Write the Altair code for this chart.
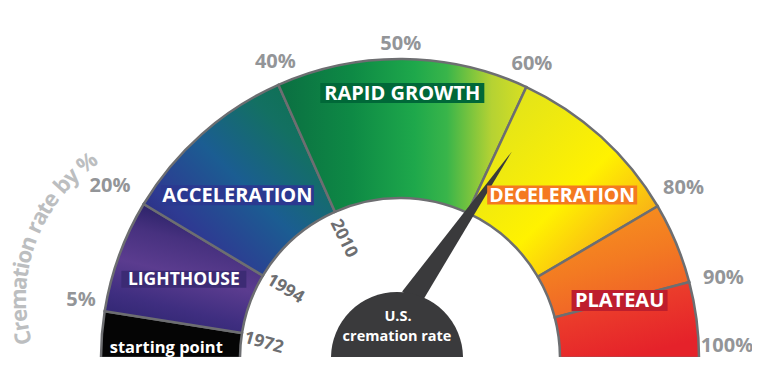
import altair as alt
import numpy as np
import pandas as pd

# ---------------- data ----------------
seg_names = ["starting point", "LIGHTHOUSE", "ACCELERATION", "RAPID GROWTH",
             "DECELERATION", "PLATEAU", "PLATEAU-2"]
seg_start = [0, 5, 20, 40, 60, 80, 90]
seg_end = [5, 20, 40, 60, 80, 90, 100]

pct_ticks = [5, 20, 40, 50, 60, 80, 90, 100]
pct_text = ["5%", "20%", "40%", "50%", "60%", "80%", "90%", "100%"]

year_text = ["1972", "1994", "2010"]
year_pct = [5, 20, 40]

label_text = ["starting point", "LIGHTHOUSE", "ACCELERATION", "RAPID GROWTH",
              "DECELERATION", "PLATEAU"]
label_pct = [1.5, 12.5, 28, 50, 71.5, 90]

needle_value = 62
title_text = "Cremation rate by %"
dial_lines = ["U.S.", "cremation rate"]

# gauge scale (non-linear), percent -> degrees from the left horizontal
SCALE_PCT = [0, 5, 20, 40, 60, 80, 90, 100]
SCALE_DEG = [0, 9, 31, 66, 115, 149.5, 165.3, 180]

# ---------------- layout ----------------
W, H = 744, 349
CX, CY = 392, 350
R_OUT, R_IN = 299, 160
GRAY = "#6d6e71"
DARK = "#3a3a3c"
FONT = "Open Sans"

# small label nudges (dx, dy) in pixels
PCT_NUDGE = [(0, -7), (-8, -3), (7, 0), (-2, 3), (-5, 0), (0, -3), (5, 4), (0, 0)]
YEAR_NUDGE = [(-4, 6, 7), (0, 0, 0), (-2, 3, -2)]


def phi(p):
    return np.radians(np.interp(p, SCALE_PCT, SCALE_DEG))


def vtheta(p):
    return phi(p) - np.pi / 2


def polar(p, r):
    a = phi(p)
    return CX - r * np.cos(a), CY - r * np.sin(a)


def grad(stops, x1, y1, x2, y2):
    return alt.LinearGradient(
        gradient="linear",
        stops=[alt.GradientStop(color=c, offset=o) for o, c in stops],
        x1=x1, y1=y1, x2=x2, y2=y2)


fills = [
    "#050505",
    grad([(0, "#28226a"), (0.3, "#3f2e80"), (0.55, "#5b3c8f"), (0.8, "#47317f"), (1, "#2a2268")], 0, 1, 0.3, 0),
    grad([(0, "#29216a"), (0.25, "#2e3a92"), (0.5, "#1b5d92"), (0.75, "#137062"), (1, "#0b7247")], 0, 1, 1, 0),
    grad([(0, "#0b6e42"), (0.3, "#0e8a45"), (0.55, "#1ea84b"), (0.68, "#39b54a"), (0.86, "#b5d233"), (1, "#d9e021")], 0, 0, 1, 0),
    grad([(0, "#d7df23"), (0.4, "#f5ec0a"), (0.55, "#fff200"), (0.8, "#f9b615"), (1, "#f7941d")], 0, 0, 1, 1),
    grad([(0, "#f7941d"), (0.5, "#f37a22"), (1, "#ef5a2a")], 0.3, 0, 0.7, 1),
    grad([(0, "#ef4e2c"), (1, "#e5222a")], 0, 0, 0.5, 1),
]

seg_df = pd.DataFrame({
    "name": seg_names,
    "t0": vtheta(np.array(seg_start, float)),
    "t1": vtheta(np.array(seg_end, float)),
})

layers = []
for i in range(len(seg_names)):
    layers.append(
        alt.Chart(seg_df.iloc[[i]]).mark_arc(
            fill=fills[i], stroke=GRAY, strokeWidth=2.5,
            radius=R_OUT, radius2=R_IN
        ).encode(
            theta=alt.Theta("t0:Q", scale=None),
            theta2=alt.Theta2("t1:Q"),
            x=alt.value(CX), y=alt.value(CY),
        )
    )

# needle: thin wedge with its apex at the tip
tipx, tipy = polar(needle_value, 235)
pivx, pivy = CX - 30, CY
ndir = np.arctan2(pivx - tipx, -(pivy - tipy))
half = np.radians(3.6)
needle_df = pd.DataFrame({"x": [tipx], "y": [tipy], "t0": [ndir - half], "t1": [ndir + half]})
layers.append(
    alt.Chart(needle_df).mark_arc(fill=DARK, radius=178, radius2=0).encode(
        theta=alt.Theta("t0:Q", scale=None), theta2=alt.Theta2("t1:Q"),
        x=alt.X("x:Q", scale=None, axis=None), y=alt.Y("y:Q", scale=None, axis=None),
    )
)

# dial
dial_df = pd.DataFrame({"t0": [-np.pi / 2], "t1": [np.pi / 2]})
layers.append(
    alt.Chart(dial_df).mark_arc(fill=DARK, radius=66).encode(
        theta=alt.Theta("t0:Q", scale=None), theta2=alt.Theta2("t1:Q"),
        x=alt.value(CX - 3), y=alt.value(CY),
    )
)
dial_text_df = pd.DataFrame({"t": dial_lines, "x": [CX - 2, CX - 3], "y": [CY - 41, CY - 21]})
layers.append(
    alt.Chart(dial_text_df).mark_text(font=FONT, fontWeight="bold", fontSize=14.5,
                                      color="white", baseline="middle").encode(
        x=alt.X("x:Q", scale=None, axis=None), y=alt.Y("y:Q", scale=None, axis=None), text="t:N")
)

# segment labels with boxes
lab_r = [234, 230, 230, 265, 230, 227]
lab_fs = [16.5, 17.5, 20, 20, 19.5, 20]
box_w = [0, 125, 153, 164, 150, 96]
box_h = [0, 17, 20, 20, 19, 21]
box_c = ["#000000", "#3c2b74", "#2b3990", "#006838", "#f47920", "#be1e2d"]
lx, ly = [], []
for p, r in zip(label_pct, lab_r):
    a, b = polar(p, r)
    lx.append(a)
    ly.append(b)
lab_df = pd.DataFrame({
    "t": label_text, "x": lx, "y": ly, "fs": lab_fs,
    "x0": np.array(lx) - np.array(box_w) / 2, "x1": np.array(lx) + np.array(box_w) / 2,
    "y0": np.array(ly) - np.array(box_h) / 2, "y1": np.array(ly) + np.array(box_h) / 2,
    "c": box_c,
})
layers.append(
    alt.Chart(lab_df.iloc[1:]).mark_rect().encode(
        x=alt.X("x0:Q", scale=None, axis=None), x2="x1:Q",
        y=alt.Y("y0:Q", scale=None, axis=None), y2="y1:Q",
        fill=alt.Fill("c:N", scale=None),
    )
)
layers.append(
    alt.Chart(lab_df).mark_text(font=FONT, fontWeight="bold", color="white",
                                baseline="middle", dy=1).encode(
        x=alt.X("x:Q", scale=None, axis=None), y=alt.Y("y:Q", scale=None, axis=None),
        text="t:N", size=alt.Size("fs:Q", scale=None),
    )
)

# percent labels around the gauge
PFS = 20
px_, py_ = [], []
for (p, t), (ndx, ndy) in zip(zip(pct_ticks, pct_text), PCT_NUDGE):
    a = phi(p)
    hw = len(t) * 0.6 * PFS / 2
    r = R_OUT + 11 + hw * abs(np.cos(a)) + 7 * abs(np.sin(a))
    x = min(CX - r * np.cos(a) + ndx, W - hw - 1)
    y = min(CY - r * np.sin(a) + ndy, CY - 12)
    px_.append(x)
    py_.append(y)
pct_df = pd.DataFrame({"t": pct_text, "x": px_, "y": py_})
layers.append(
    alt.Chart(pct_df).mark_text(font=FONT, fontWeight="bold", fontSize=PFS,
                                color="#939598", baseline="middle").encode(
        x=alt.X("x:Q", scale=None, axis=None), y=alt.Y("y:Q", scale=None, axis=None), text="t:N")
)

# year labels along boundaries
yx, yy, ya = [], [], []
for p, (ndx, ndy, nda) in zip(year_pct, YEAR_NUDGE):
    a, b = polar(p, 134)
    yx.append(a + ndx)
    yy.append(b + ndy)
    ya.append(float(np.degrees(phi(p))) + nda)
year_df = pd.DataFrame({"t": year_text, "x": yx, "y": yy, "a": ya})
layers.append(
    alt.Chart(year_df).mark_text(font=FONT, fontWeight="bold", fontSize=17.5,
                                 color=GRAY, baseline="middle").encode(
        x=alt.X("x:Q", scale=None, axis=None), y=alt.Y("y:Q", scale=None, axis=None),
        text="t:N", angle=alt.Angle("a:Q", scale=None))
)

# curved title
cw = {"C": 0.63, "r": 0.43, "e": 0.57, "m": 0.90, "a": 0.57, "t": 0.38, "i": 0.27,
      "o": 0.60, "n": 0.62, " ": 0.26, "b": 0.62, "y": 0.53, "%": 0.83}
TFS = 22
TCX, TCY, TR = 181, 291, 170
phi0 = np.radians(-15.5)
cum = 0.0
tx, ty, ta, tc = [], [], [], []
for ch in title_text:
    w = cw.get(ch, 0.55) * TFS
    f = phi0 + (cum + w / 2) / TR
    cum += w
    tx.append(TCX - TR * np.cos(f))
    ty.append(TCY - TR * np.sin(f))
    ta.append(float((np.degrees(f) - 90) % 360))
    tc.append(ch)
title_df = pd.DataFrame({"t": tc, "x": tx, "y": ty, "a": ta, "i": range(len(tc))})
layers.append(
    alt.Chart(title_df).mark_text(font=FONT, fontWeight="bold", fontSize=TFS,
                                  color="#bcbec0", baseline="middle").encode(
        x=alt.X("x:Q", scale=None, axis=None), y=alt.Y("y:Q", scale=None, axis=None),
        text="t:N", angle=alt.Angle("a:Q", scale=None), detail="i:O")
)

chart = alt.layer(*layers).properties(
    width=W, height=H, padding=0, autosize="none"
).configure_view(stroke=None)

chart.save("out.html", embed_options={"renderer": "svg", "actions": False})
